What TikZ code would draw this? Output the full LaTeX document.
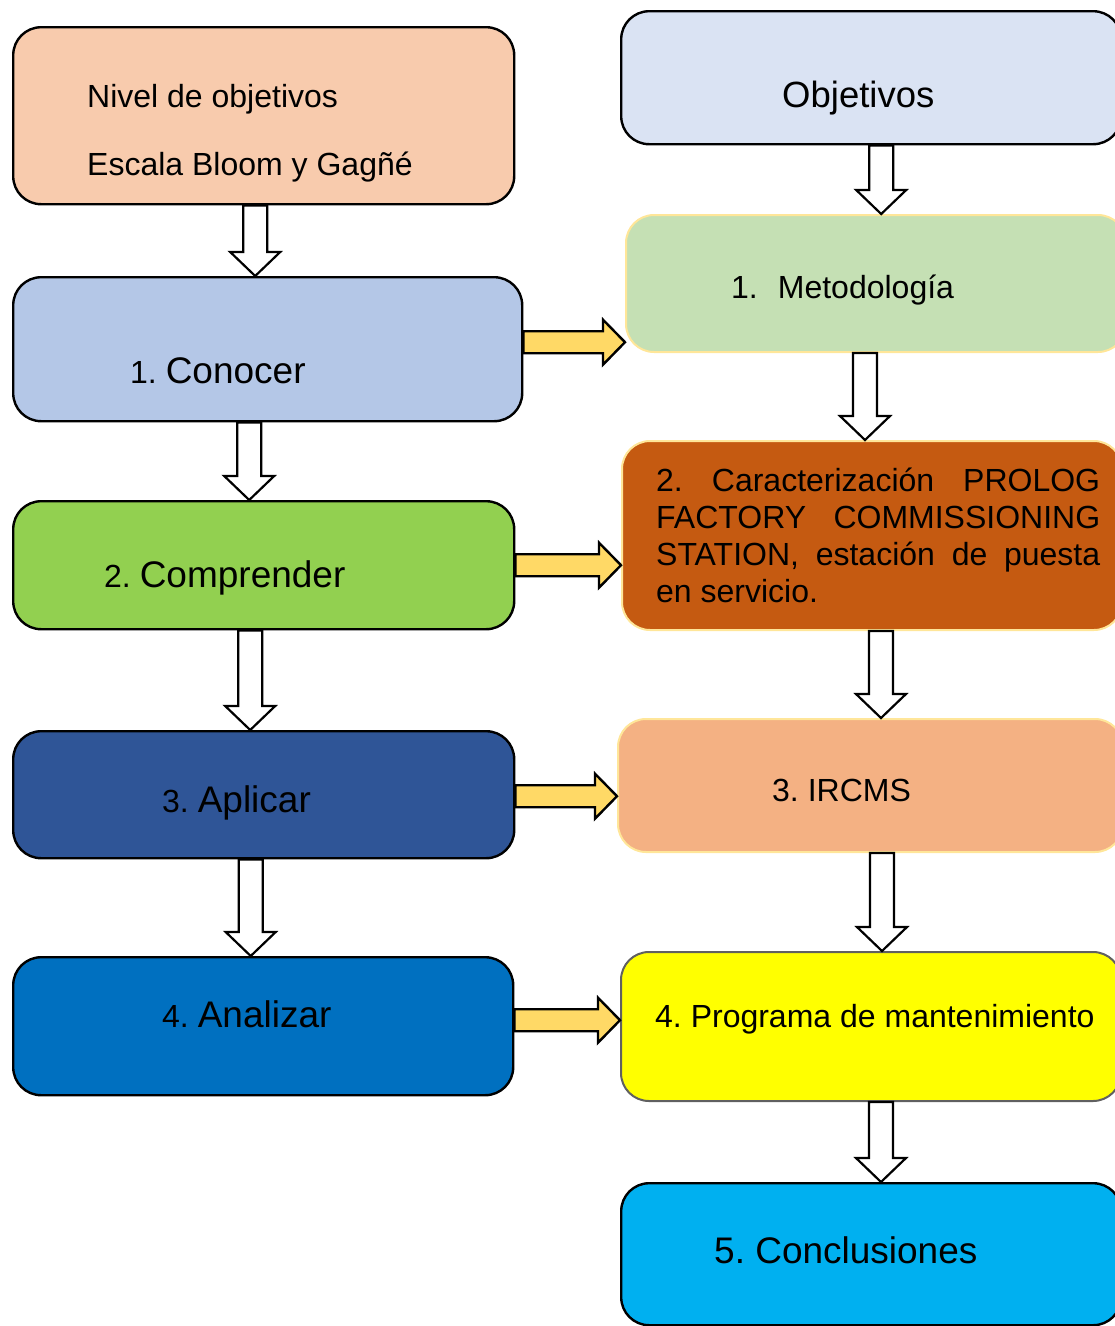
\documentclass[tikz,border=0pt]{standalone}
\usepackage{fontspec}
\setmainfont{Liberation Sans}
\usetikzlibrary{calc}
\frenchspacing

\definecolor{peach}{HTML}{F8CBAD}
\definecolor{paleblue}{HTML}{B4C7E7}
\definecolor{leaf}{HTML}{92D050}
\definecolor{navy}{HTML}{2F5597}
\definecolor{ocean}{HTML}{0070C0}
\definecolor{mist}{HTML}{DAE3F3}
\definecolor{sage}{HTML}{C5E0B4}
\definecolor{rust}{HTML}{C55A11}
\definecolor{salmon}{HTML}{F4B183}
\definecolor{lemon}{HTML}{FFFF00}
\definecolor{sky}{HTML}{00B0F0}
\definecolor{edgeyellow}{HTML}{FFE699}
\definecolor{edgegray}{HTML}{606060}
\definecolor{arrowyellow}{HTML}{FFD966}

% hollow block arrow pointing down, from one box to the next
\newcommand\fatdown[3][0]{%
  \draw[hollow] let \p1=($#2+(#1,0)$), \p2=#3 in
    (\x1-12pt,\y1) -- (\x1+12pt,\y1) -- (\x1+12pt,\y2+24pt) -- (\x1+25pt,\y2+24pt)
    -- (\x1,\y2) -- (\x1-25pt,\y2+24pt) -- (\x1-12pt,\y2+24pt) -- cycle;}

% yellow block arrow pointing right, from a level to its stage
\newcommand\fatright[3][0]{%
  \draw[golden] let \p1=($#2+(0,#1)$), \p2=#3 in
    (\x1,\y1+11pt) -- (\x2-22pt,\y1+11pt) -- (\x2-22pt,\y1+22.5pt) -- (\x2,\y1)
    -- (\x2-22pt,\y1-22.5pt) -- (\x2-22pt,\y1-11pt) -- (\x1,\y1-11pt) -- cycle;}

\begin{document}
\begin{tikzpicture}[x=1pt,y=-1pt,
  box/.style={draw=black, line width=2.4pt, rounded corners=28pt, anchor=north west, inner sep=0pt},
  softbox/.style={box, draw=edgeyellow, line width=2pt},
  txt/.style={anchor=base west, inner sep=0pt, text=black},
  big/.style={font=\fontsize{37}{44}\selectfont},
  mid/.style={font=\fontsize{32}{37}\selectfont},
  hollow/.style={draw=black, line width=2.2pt, fill=white, line join=miter},
  golden/.style={draw=black, line width=2.4pt, fill=arrowyellow, line join=miter}]

\useasboundingbox (0,0) rectangle (1115,1326);
\clip (0,0) rectangle (1115,1326);

% left column: levels of objectives
\node[box, fill=peach,    minimum width=501pt, minimum height=177pt] (A) at (12,26) {};
\node[box, fill=paleblue, minimum width=509pt, minimum height=144pt] (B) at (12,276) {};
\node[box, fill=leaf,     minimum width=501pt, minimum height=128pt] (C) at (12,500) {};
\node[box, fill=navy,     minimum width=501pt, minimum height=127pt] (D) at (12,730) {};
\node[box, fill=ocean,    minimum width=500pt, minimum height=138pt] (E) at (12,956) {};

% right column: stages of the work
\node[box, fill=mist,       minimum width=500pt, minimum height=133pt] (R0) at (620,10) {};
\node[softbox, fill=sage,   minimum width=500pt, minimum height=137pt] (R1) at (625,214) {};
\node[softbox, fill=rust,   minimum width=500pt, minimum height=189pt] (R2) at (621,440) {};
\node[softbox, fill=salmon, minimum width=505pt, minimum height=133pt] (R3) at (617,718) {};
\node[box, draw=edgegray, line width=2pt, fill=lemon, minimum width=500pt, minimum height=149pt] (R4) at (620,951) {};
\node[box, fill=sky,        minimum width=500pt, minimum height=142pt] (R5) at (620,1182) {};

% texts
\node[txt, mid] (tA1) at (87,107) {Nivel de objetivos};
\node[txt, mid] (tA2) at (87,175) {Escala Bloom y Gagñé};
\node[txt, mid] (tB) at (130,383) {1. {\fontsize{37}{44}\selectfont Conocer}};
\node[txt, mid] (tC) at (104,587) {2. {\fontsize{37}{44}\selectfont Comprender}};
\node[txt, mid] (tD) at (162,812) {3. {\fontsize{37}{44}\selectfont Aplicar}};
\node[txt, mid] (tE) at (162,1027) {4. {\fontsize{37}{44}\selectfont Analizar}};

\node[txt, font=\fontsize{36.5}{44}\selectfont] (tR0) at (782,107) {Objetivos};
\node[txt, mid] (tR1) at (731,298) {1.\hspace{20pt}Metodología};
\node[txt, mid] (tR2a) at (656,491) {\makebox[444pt][s]{2. Caracterización PROLOG}};
\node[txt, mid] (tR2b) at (656,528) {\makebox[444pt][s]{FACTORY COMMISSIONING}};
\node[txt, mid] (tR2c) at (656,565) {\makebox[444pt][s]{STATION, estación de puesta}};
\node[txt, mid] (tR2d) at (656,602) {en servicio.};
\node[txt, mid] (tR3) at (772,801) {3. IRCMS};
\node[txt, mid] (tR4) at (655,1027) {4. Programa de mantenimiento};
\node[txt, big] (tR5) at (714,1263) {5. Conclusiones};

% downward flow in each column
\fatdown[-8.5]{(A.south)}{(B.north)}
\fatdown[-18.5]{(B.south)}{(C.north)}
\fatdown[-13.5]{(C.south)}{(D.north)}
\fatdown[-13]{(D.south)}{(E.north)}
\fatdown[10]{(R0.south)}{(R1.north)}
\fatdown[-11]{(R1.south)}{(R2.north)}
\fatdown[9]{(R2.south)}{(R3.north)}
\fatdown[11.5]{(R3.south)}{(R4.north)}
\fatdown[10]{(R4.south)}{(R5.north)}

% links from each level to its stage
\fatright[-7]{(B.east)}{(R1.west)}
\fatright[0]{(C.east)}{(R2.west)}
\fatright[1.5]{(D.east)}{(R3.west)}
\fatright[-6]{(E.east)}{(R4.west)}
\end{tikzpicture}
\end{document}
